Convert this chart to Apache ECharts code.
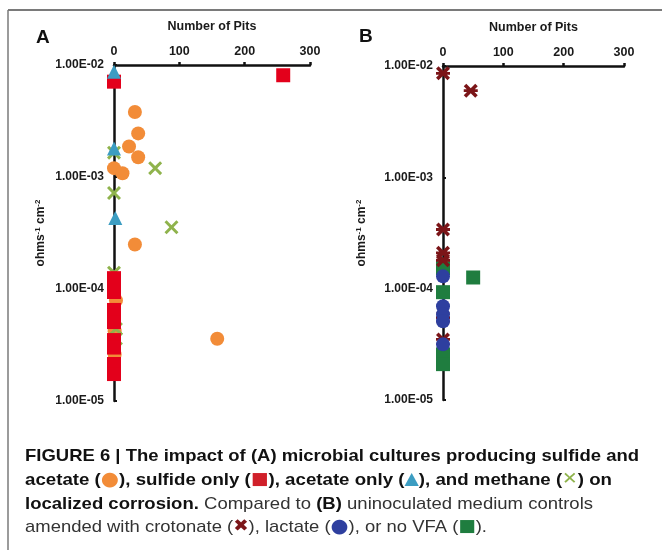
<!DOCTYPE html>
<html><head><meta charset="utf-8">
<script src="https://cdn.jsdelivr.net/npm/echarts@6/dist/echarts.min.js"></script>
<style>html,body{margin:0;padding:0;background:#fff}#c{width:662px;height:550px}</style>
</head><body><div id="c"></div>
<script>
// ---------- Panel A data (x = number of pits, y = ohms^-1 cm^-2) ----------
const sulfAcetX = [32, 37, 23, 37, 0, 13, 32, 158, 3, 1, 1];
const sulfAcetY = [3.8e-3, 2.45e-3, 1.87e-3, 1.5e-3, 1.2e-3, 1.08e-3, 2.5e-4, 3.6e-5, 7.9e-5, 4.2e-5, 2.6e-5];
const methaneX = [0, 63, 0, 88, 0, 3, 3];
const methaneY = [1.65e-3, 1.2e-3, 7.2e-4, 3.56e-4, 1.4e-4, 4.4e-5, 3.6e-5];
const sulfideX = [259, 0, 0, 0, 0, 0, 0, 0, 0, 0];
const sulfideY = [8.1e-3, 7.1e-3, 1.25e-4, 9.4e-5, 6.5e-5, 5.07e-5, 3.5e-5, 3.0e-5, 2.14e-5, 1.74e-5];
const acetateX = [0, 0, 2];
const acetateY = [8.7e-3, 1.8e-3, 4.3e-4];
// ---------- Panel B data ----------
const noVfaX = [50, 0, 0, 0, 0];
const noVfaY = [1.26e-4, 1.53e-4, 9.3e-5, 2.57e-5, 2.1e-5];
const crotonateX = [0, 46, 0, 0, 0, 0, 0];
const crotonateY = [8.6e-3, 6.0e-3, 3.4e-4, 2.1e-4, 1.8e-4, 5.5e-5, 3.5e-5];
const lactateX = [0, 0, 0, 0, 0];
const lactateY = [1.29e-4, 6.95e-5, 5.86e-5, 5.1e-5, 3.16e-5];
// ---------- axes / text ----------
const xTicks = [0, 100, 200, 300];
const yTicks = [1e-5, 1e-4, 1e-3, 1e-2];
const yTickLabels = ['1.00E-05', '1.00E-04', '1.00E-03', '1.00E-02'];
const xName = 'Number of Pits';
const panelLetters = ['A', 'B'];
const captionLines = [
  [['b', 'FIGURE 6 | The impact of (A) microbial cultures producing sulfide and']],
  [['b', 'acetate ('], ['so', '●'], ['b', '), sulfide only ('], ['sr', '■'], ['b', '), acetate only ('], ['st', '▲'], ['b', '), and methane ('], ['sx', '✕'], ['b', ') on']],
  [['b', 'localized corrosion.'], ['r', ' Compared to '], ['b', '(B)'], ['r', ' uninoculated medium controls']],
  [['r', 'amended with crotonate ('], ['sc', '✖'], ['r', '), lactate ('], ['sl', '●'], ['r', '), or no VFA ('], ['sg', '■'], ['r', ').']]
];

const C = {orange:'#F28C38', red:'#E3001B', tri:'#3C9DC2', green:'#8FB34C', crot:'#7B1518', lact:'#2E3F9F', novfa:'#1F7D3F'};
const FONT = "'Liberation Sans', Arial, sans-serif";
const CAPFONT = "'Liberation Sans Narrow', 'Liberation Sans', Arial, sans-serif";
const SYMFONT = "'DejaVu Sans', sans-serif";
const XPATH = 'path://M1.5,0 L5,3.5 L8.5,0 L10,1.5 L6.5,5 L10,8.5 L8.5,10 L5,6.5 L1.5,10 L0,8.5 L3.5,5 L0,1.5 Z';
const CPATH = 'path://M1.8,0 L5,3.2 L8.2,0 L10,1.8 L6.8,5 L10,8.2 L8.2,10 L5,6.8 L1.8,10 L0,8.2 L3.2,5 L0,1.8 Z M0,4 L10,4 L10,6 L0,6 Z';

const zip = (xs, ys) => xs.map((x, i) => [x, ys[i]]);
function fmtY(v) {
  const e = Math.round(Math.log10(v));
  for (let i = 0; i < yTicks.length; i++) if (Math.abs(Math.log10(yTicks[i]) - e) < 1e-6) return yTickLabels[i];
  return '';
}

function xAxis(idx) {
  return {
    gridIndex: idx, type: 'value', position: 'top', min: xTicks[0], max: xTicks[xTicks.length - 1], interval: xTicks[1] - xTicks[0],
    name: xName, nameLocation: 'middle', nameGap: 32,
    nameTextStyle: {fontFamily: FONT, fontWeight: 'bold', fontSize: 12.5, color: '#1a1a1a'},
    axisLine: {onZero: false, lineStyle: {color: '#111', width: 2.5}},
    axisTick: {show: true, length: 3, lineStyle: {color: '#111', width: 2.5}},
    axisLabel: {margin: 7, fontFamily: FONT, fontWeight: 'bold', fontSize: 12.5, color: '#1a1a1a'},
    splitLine: {show: false}
  };
}
function yAxis(idx, gap) {
  return {
    gridIndex: idx, type: 'log', logBase: 10, min: yTicks[0], max: yTicks[yTicks.length - 1],
    name: 'ohms{sup|-1} cm{sup|-2}', nameLocation: 'middle', nameRotate: 90, nameGap: gap,
    nameTextStyle: {fontFamily: FONT, fontWeight: 'bold', fontSize: 12, color: '#1a1a1a', lineHeight: 14,
      rich: {sup: {fontFamily: FONT, fontWeight: 'bold', fontSize: 8, color: '#1a1a1a', verticalAlign: 'top', lineHeight: 14}}},
    axisLine: {onZero: false, lineStyle: {color: '#111', width: 2.5}},
    axisTick: {show: true, length: 3, inside: true, lineStyle: {color: '#111', width: 2}},
    axisLabel: {margin: 10, fontFamily: FONT, fontWeight: 'bold', fontSize: 12, color: '#1a1a1a', formatter: fmtY},
    splitLine: {show: false}
  };
}
function sc(name, xi, xs, ys, symbol, size, color) {
  return {name, type: 'scatter', xAxisIndex: xi, yAxisIndex: xi, data: zip(xs, ys), symbol, symbolSize: size,
    itemStyle: {color, opacity: 1}, emphasis: {disabled: true}, silent: true};
}

// caption measurement
const mctx = document.createElement('canvas').getContext('2d');
const richStyles = {
  b: {fontFamily: CAPFONT, fontWeight: 'bold', fontSize: 17, fill: '#111'},
  r: {fontFamily: CAPFONT, fontWeight: 'normal', fontSize: 17, fill: '#333'},
  so: {fontFamily: SYMFONT, fontSize: 19, fill: C.orange},
  sr: {fontFamily: SYMFONT, fontSize: 17, fill: '#D0202A'},
  st: {fontFamily: SYMFONT, fontSize: 17, fill: C.tri},
  sx: {fontFamily: SYMFONT, fontSize: 17, fill: C.green},
  sc: {fontFamily: SYMFONT, fontSize: 17, fill: C.crot},
  sl: {fontFamily: SYMFONT, fontSize: 19, fill: C.lact},
  sg: {fontFamily: SYMFONT, fontSize: 17, fill: C.novfa}
};
function measure(t, st) {
  mctx.font = (st.fontWeight === 'bold' ? 'bold ' : '') + st.fontSize + 'px ' + st.fontFamily;
  return mctx.measureText(t).width;
}
const capTargets = [614, 587, 568, 462];
const capY = [456, 480, 504, 527];
const captionGraphics = captionLines.map((segs, i) => {
  const w = segs.reduce((a, s) => a + measure(s[1], richStyles[s[0]]), 0);
  return {
    type: 'text', x: 25, y: capY[i], scaleX: capTargets[i] / w, silent: true,
    style: {text: segs.map(s => '{' + s[0] + '|' + s[1] + '}').join(''), rich: richStyles, verticalAlign: 'middle', align: 'left'}
  };
});

const chart = echarts.init(document.getElementById('c'), null, {renderer: 'canvas'});
chart.setOption({
  animation: false,
  backgroundColor: '#fff',
  grid: [
    {left: 114, top: 65, width: 196, height: 336},
    {left: 443, top: 66, width: 181, height: 334}
  ],
  xAxis: [xAxis(0), xAxis(1)],
  yAxis: [yAxis(0, 66), yAxis(1, 74)],
  series: [
    sc('sulfide and acetate', 0, sulfAcetX, sulfAcetY, 'circle', 14, C.orange),
    sc('methane', 0, methaneX, methaneY, XPATH, 14, C.green),
    sc('sulfide only', 0, sulfideX, sulfideY, 'rect', 14, C.red),
    sc('acetate only', 0, acetateX, acetateY, 'triangle', 14, C.tri),
    sc('no VFA', 1, noVfaX, noVfaY, 'rect', 14, C.novfa),
    sc('crotonate', 1, crotonateX, crotonateY, CPATH, 14, C.crot),
    sc('lactate', 1, lactateX, lactateY, 'circle', 14, C.lact)
  ],
  graphic: [
    {type: 'line', silent: true, shape: {x1: 8, y1: 10, x2: 662, y2: 10}, style: {stroke: '#7a7a7a', lineWidth: 2}},
    {type: 'line', silent: true, shape: {x1: 8, y1: 10, x2: 8, y2: 550}, style: {stroke: '#7a7a7a', lineWidth: 1.5}},
    {type: 'text', silent: true, x: 36, y: 38, style: {text: panelLetters[0], font: 'bold 19px ' + FONT, fill: '#111', verticalAlign: 'middle'}},
    {type: 'text', silent: true, x: 359, y: 37, style: {text: panelLetters[1], font: 'bold 19px ' + FONT, fill: '#111', verticalAlign: 'middle'}}
  ].concat(captionGraphics)
});
</script>
</body></html>
